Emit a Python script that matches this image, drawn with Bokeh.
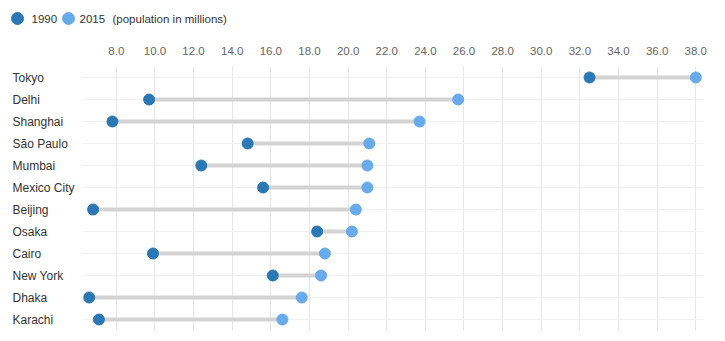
from bokeh.plotting import figure
from bokeh.layouts import column, row
from bokeh.models import (ColumnDataSource, FactorRange, Range1d, FixedTicker,
                          NumeralTickFormatter)
from bokeh.core.properties import value
from bokeh.embed import file_html
from bokeh.resources import INLINE

cities = ["Tokyo", "Delhi", "Shanghai", "São Paulo", "Mumbai", "Mexico City",
          "Beijing", "Osaka", "Cairo", "New York", "Dhaka", "Karachi"]
pop1990 = [32.5, 9.7, 7.8, 14.8, 12.4, 15.6, 6.8, 18.4, 9.9, 16.1, 6.6, 7.1]
pop2015 = [38.0, 25.7, 23.7, 21.1, 21.0, 21.0, 20.4, 20.2, 18.8, 18.6, 17.6, 16.6]
x_ticks = [8, 10, 12, 14, 16, 18, 20, 22, 24, 26, 28, 30, 32, 34, 36, 38]
series_names = ["1990", "2015"]
unit_note = "(population in millions)"

FONT = "Liberation Sans"
C1990 = "#2b78b4"
C2015 = "#67abea"
TEXT = "#333333"

W, H = 725, 341
LEG_H = 36          # legend strip height
LABEL_W = 82        # category label column width
TOP, BOTTOM, RIGHT = 30, 11, 22

src = ColumnDataSource(dict(city=cities, p1990=pop1990, p2015=pop2015))
y_range = FactorRange(factors=list(reversed(cities)))


def bare(fig):
    fig.outline_line_color = None
    fig.xgrid.visible = False
    fig.ygrid.visible = False
    return fig


# ---- legend strip (pixel coordinates) ----
leg = bare(figure(width=W, height=LEG_H, output_backend="svg", toolbar_location=None,
                  x_range=Range1d(0, W), y_range=Range1d(0, LEG_H),
                  x_axis_type=None, y_axis_type=None, min_border=0))
leg.scatter(x=[17, 68], y=[18, 18], size=12, color=[C1990, C2015])
leg.text(x=[31, 79, 112], y=[18, 18, 18], text=series_names + [unit_note],
         text_align="left", text_baseline="middle", text_font=value(FONT),
         text_font_size="11.5px", text_color=TEXT)

# ---- category label column ----
lab = bare(figure(width=LABEL_W, height=H - LEG_H, output_backend="svg",
                  toolbar_location=None, x_range=Range1d(0, LABEL_W), y_range=y_range,
                  x_axis_type=None, y_axis_type=None, min_border_left=0,
                  min_border_right=0, min_border_top=TOP, min_border_bottom=BOTTOM))
lab.text(x=12, y="city", text="city", source=src, text_align="left",
         text_baseline="middle", text_font=value(FONT), text_font_size="12px",
         text_color=TEXT)

# ---- main dumbbell plot ----
p = figure(width=W - LABEL_W, height=H - LEG_H, output_backend="svg",
           toolbar_location=None, y_range=y_range,
           x_range=Range1d(6.25, 38.4), x_axis_location="above",
           min_border_left=0, min_border_right=RIGHT, min_border_top=TOP,
           min_border_bottom=BOTTOM)
p.outline_line_color = None

p.segment(x0="p1990", x1="p2015", y0="city", y1="city", source=src,
          line_color="#d3d3d3", line_width=4)
p.scatter(x="p1990", y="city", source=src, size=11, fill_color=C1990,
          line_color=C1990)
p.scatter(x="p2015", y="city", source=src, size=11, fill_color=C2015,
          line_color=C2015)

xa = p.xaxis[0]
xa.ticker = FixedTicker(ticks=x_ticks)
xa.formatter = NumeralTickFormatter(format="0.0")
xa.axis_line_color = None
xa.major_tick_line_color = None
xa.minor_tick_line_color = None
xa.major_label_text_font = FONT
xa.major_label_text_font_size = "11.5px"
xa.major_label_text_color = "#666666"
xa.major_label_standoff = 6

p.yaxis.visible = False

p.xgrid.ticker = FixedTicker(ticks=x_ticks)
p.xgrid.grid_line_color = "#e6e6e6"
p.ygrid.grid_line_color = "#f0f0f0"

layout = column(leg, row(lab, p, spacing=0), spacing=0)

open("out.html", "w").write(file_html(layout, INLINE))
